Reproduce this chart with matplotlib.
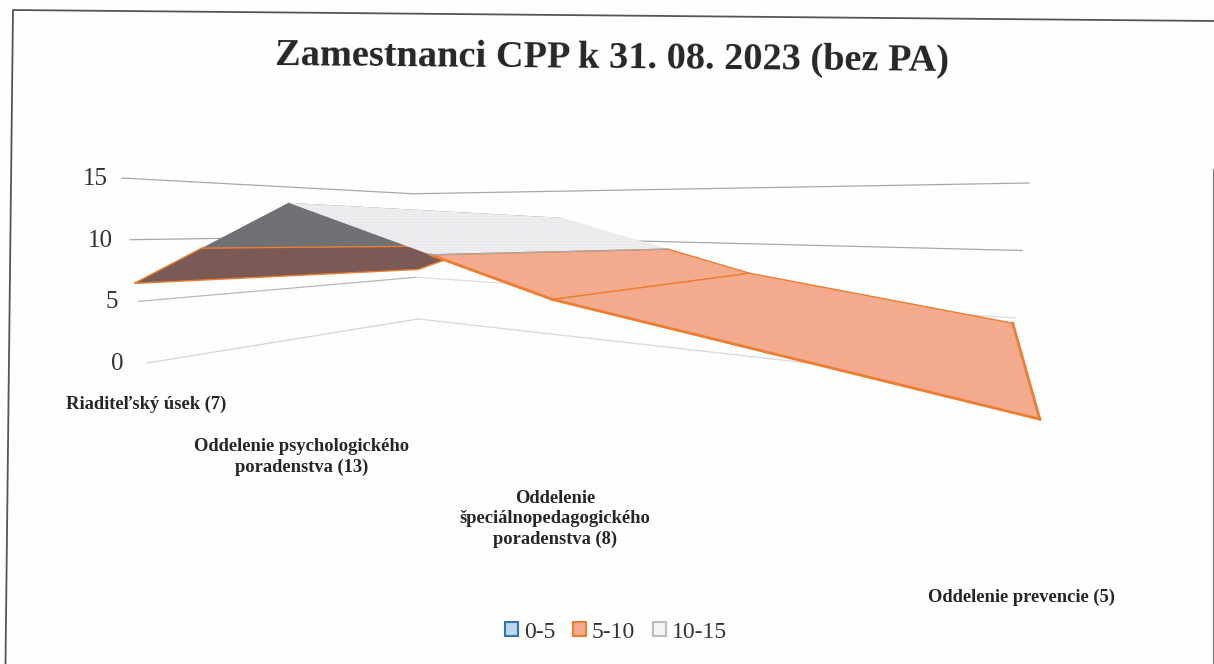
import numpy as np
import matplotlib
matplotlib.use("Agg")
import matplotlib.pyplot as plt
from matplotlib.patches import Polygon, Patch

plt.rcParams["font.family"] = ["Liberation Serif", "DejaVu Serif"]
plt.rcParams["hatch.linewidth"] = 0.3

title = "Zamestnanci CPP k 31. 08. 2023 (bez PA)"
categories = [
    "Riaditeľský úsek (7)",
    "Oddelenie psychologického\nporadenstva (13)",
    "Oddelenie\nšpeciálnopedagogického\nporadenstva (8)",
    "Oddelenie prevencie (5)",
]
counts = [7, 13, 8, 5]
value_ticks = [0, 5, 10, 15]
band_labels = ["0-5", "5-10", "10-15"]
band_ranges = [(0, 5), (5, 10), (10, 15)]

# camera of the 3D chart: (category, depth, value) -> picture pixels
P = np.array([
    [97.99597937234877, 477.47717529919737, -1.7407608376862433, 142.1380332195218],
    [-42.9103431434881, 116.44406798911362, -13.155522686184389, 366.8163272573266],
    [-0.18900638504365475, 0.4824755928492763, -0.004387450535205062, 1.0],
])
# wall frame: x and y of each wall edge at value 0, and change per unit of value
WALL = [(147, -1.67, 363, -12.33), (418, -0.3, 319, -8.35), (1008, 1.4, 385.5, -13.5)]


def project(c, d, v):
    h = P @ np.array([c, d, v, 1.0])
    return h[0] / h[2], h[1] / h[2]


def band_poly(i, lo, hi):
    # part of cell i (between two categories) that lies between lo and hi
    v0, v1 = counts[i], counts[i + 1]
    t0 = (lo - v0) / (v1 - v0)
    t1 = (hi - v0) / (v1 - v0)
    a, b = sorted((np.clip(t0, 0, 1), np.clip(t1, 0, 1)))
    if b - a < 1e-6:
        return None
    va = v0 + a * (v1 - v0)
    vb = v0 + b * (v1 - v0)
    return [project(i + a, 0, va), project(i + b, 0, vb), project(i + b, 1, vb), project(i + a, 1, va)]


fig = plt.figure(figsize=(12.14, 6.64), dpi=100, facecolor="#fefefe")
ax = fig.add_axes([0, 0, 1, 1])
ax.set_xlim(0, 1214)
ax.set_ylim(664, 0)
ax.axis("off")

# frame of the scanned page
ax.plot([5.5, 13, 1214], [664, 10, 21], color="#555555", lw=1.3)
ax.plot([1213.5, 1213.5], [170, 664], color="#777777", lw=1.5)

ax.text(612, 58, title, fontsize=27.6, fontweight="bold", color="#262626", ha="center", va="center", rotation=-0.5)

grid_colors = {0: ("#d4d4d4", "#d8d8dc"), 5: ("#b8b8bc", "#dcdcdc"), 10: ("#a8a8ac", "#a8a8ac"), 15: ("#a8a8ac", "#a8a8ac")}
for v in value_ticks:
    xs = [w[0] + w[1] * v for w in WALL]
    ys = [w[2] + w[3] * v for w in WALL]
    ax.plot(xs[:2], ys[:2], color=grid_colors[v][0], lw=0.9, zorder=1)
    ax.plot(xs[1:], ys[1:], color=grid_colors[v][1], lw=0.9, zorder=1)
    ax.text(xs[0] - 24 + 0.67 * v, ys[0] + 1, str(v), fontsize=18, color="#333333", ha="right", va="center")

fills = {0: ["#bdd7ee", "#7b5a55", "#6f7175"], 1: ["#bdd7ee", "#f4aa8c", "#eeeef0"], 2: ["#bdd7ee", "#f4aa8c", "#eeeef0"]}
for i in range(3):
    for k, (lo, hi) in enumerate(band_ranges):
        poly = band_poly(i, lo, hi)
        if poly is None:
            continue
        if k == 2 and i > 0:
            ax.add_patch(Polygon(poly, closed=True, facecolor=fills[i][k], edgecolor="#dcdce2", hatch="......", lw=0, zorder=2 + i))
            ax.plot([poly[1][0], poly[2][0]], [poly[1][1], poly[2][1]], color="#a8a8b0", lw=0.9, zorder=2.6 + i)
        else:
            ax.add_patch(Polygon(poly, closed=True, facecolor=fills[i][k], edgecolor="none", zorder=2 + i))
        if k == 1:
            ax.add_patch(Polygon(poly, closed=True, facecolor="none", edgecolor="#ed7d31", lw=1.0, zorder=2.5 + i))
            if i > 0:
                # the front row has the heavy line
                ax.plot([poly[0][0], poly[1][0]], [poly[0][1], poly[1][1]], color="#ed7d31", lw=2.0, zorder=2.6 + i)
        if i == 2:
            ax.plot([poly[1][0], poly[2][0]], [poly[1][1], poly[2][1]], color="#ed7d31", lw=2.0, zorder=2.6 + i)

label_pos = [(146, 404), (302, 457), (555, 519), (1021, 597)]
for name, (x, y) in zip(categories, label_pos):
    ax.text(x, y, name, fontsize=13.3, fontweight="bold", color="#262626", ha="center", va="center", linespacing=1.25)

handles = [
    Patch(facecolor="#bdd7ee", edgecolor="#2e75b6", lw=1.5),
    Patch(facecolor="#f4aa8c", edgecolor="#ed7d31", lw=1.5),
    Patch(facecolor="#f4f4f4", edgecolor="#bcbcbc", lw=1.5),
]
ax.legend(handles, band_labels, loc="center", bbox_to_anchor=(616 / 1214, 1 - 632 / 664), ncol=3, frameon=False,
          fontsize=17, handlelength=0.55, handleheight=0.55, handletextpad=0.25, columnspacing=0.75, labelcolor="#333333")

fig.savefig("out.png", dpi=100, facecolor=fig.get_facecolor())
